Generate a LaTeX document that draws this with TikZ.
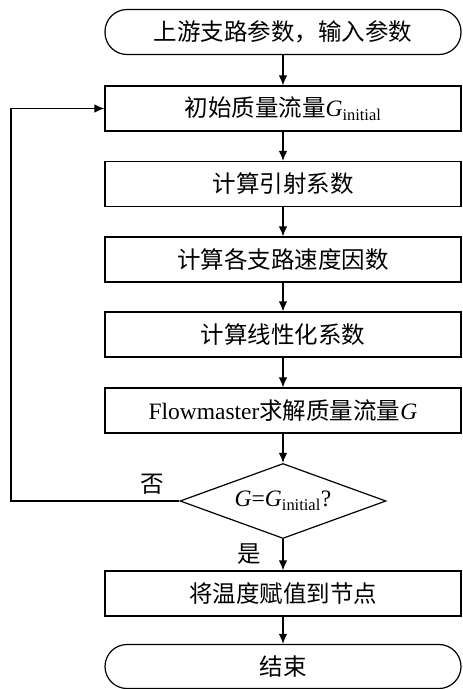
\documentclass[tikz,border=0pt]{standalone}
\usepackage{fontspec}
\setmainfont{Liberation Serif}
\newfontfamily\cjk{Noto Sans CJK SC}
\usetikzlibrary{arrows.meta,shapes.geometric}
\newcommand{\Gini}{{\rmfamily\textit{G}\textsubscript{initial}}}

\begin{document}
\begin{tikzpicture}[x=1pt,y=-1pt,
        every node/.style={font=\fontsize{23.5}{27}\selectfont},
        box/.style={draw, line width=1.2pt, minimum width=356pt, minimum height=45pt, inner sep=0pt},
        term/.style={box, rounded corners=22pt},
        ask/.style={draw, line width=1.2pt, diamond, aspect=2.75, minimum width=206pt, minimum height=75pt, inner sep=0pt},
        flow/.style={-{Latex[length=10pt,width=8.5pt]}, line width=1.2pt}]
        \useasboundingbox (0,0) rectangle (463,689);
        \node[term] (start) at (283,32) {\cjk 上游支路参数，输入参数};
        \node[box] (init) at (283,108.5) {\cjk 初始质量流量\Gini};
        \node[box] (coef) at (283,184) {\cjk 计算引射系数};
        \node[box] (speed) at (283,259.5) {\cjk 计算各支路速度因数};
        \node[box] (linear) at (283,334.5) {\cjk 计算线性化系数};
        \node[box] (solve) at (283,410.5) {Flowmaster{\cjk 求解质量流量}\textit{G}};
        \node[ask] (check) at (283,501) {\textit{G}=\Gini?};
        \node[box] (assign) at (283,593.5) {\cjk 将温度赋值到节点};
        \node[term, minimum height=44pt] (stop) at (283,666.5) {\cjk 结束};
        \foreach \a/\b in {start/init, init/coef, coef/speed, speed/linear, linear/solve, solve/check, check/assign, assign/stop}
            \draw[flow] (\a) -- (\b);
        % back to the first guess
        \coordinate (turn) at (11,501);
        \draw[flow] (check.west) -- (turn) |- (init.west);
        \node (no) at (152,484) {\cjk 否};
        \node (yes) at (249,554) {\cjk 是};
    \end{tikzpicture}
\end{document}
